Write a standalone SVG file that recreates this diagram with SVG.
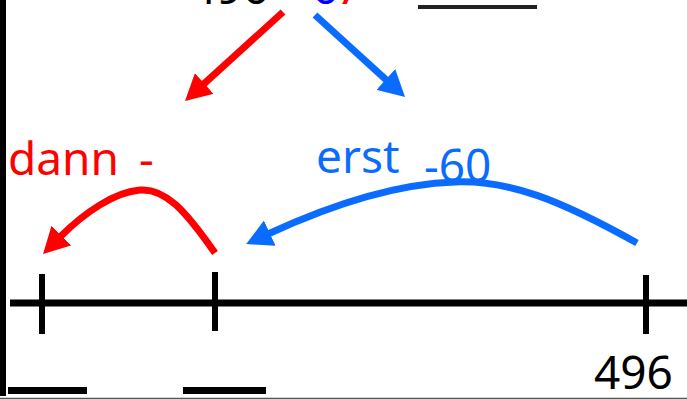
<svg xmlns="http://www.w3.org/2000/svg" width="687" height="400" viewBox="0 0 687 400">
<style>
text{font-family:"Noto Sans","DejaVu Sans",sans-serif;font-size:46px}
.blk{fill:#000}
.red{fill:#ff0000}
.blu{fill:#0a6cff}
.ax{stroke:#000;stroke-width:7;fill:none}
.tick{stroke:#000;stroke-width:6;fill:none}
.ra{stroke:#ff0000;stroke-width:7;fill:none}
.ba{stroke:#0a6cff;stroke-width:7;fill:none}
</style>
<defs>
<marker id="hr" viewBox="0 0 26 28" refX="2" refY="14" markerWidth="26" markerHeight="28" markerUnits="userSpaceOnUse" orient="auto"><path d="M0,0 L26,14 L0,28 z" fill="#ff0000"/></marker>
<marker id="hb" viewBox="0 0 26 28" refX="2" refY="14" markerWidth="26" markerHeight="28" markerUnits="userSpaceOnUse" orient="auto"><path d="M0,0 L26,14 L0,28 z" fill="#0a6cff"/></marker>
</defs>
<rect width="687" height="400" fill="#fff"/>
<g id="frame">
<line x1="3" y1="0" x2="3" y2="396" stroke="#000" stroke-width="6"/>
<line x1="0" y1="398.5" x2="687" y2="398.5" stroke="#555" stroke-width="1.5"/>
</g>
<g id="top-term">
<text x="190" y="4" class="blk">496 -</text>
<text x="312" y="4" fill="#0000ff">6</text>
<text x="336" y="4" class="red">7</text>
</g>
<g id="top-blank"><line x1="418" y1="7" x2="537" y2="7" stroke="#222" stroke-width="4"/></g>
<g id="label-dann"><text x="8" y="175" class="red">dann <tspan x="139">-</tspan></text></g>
<g id="label-erst"><text x="316" y="173" class="blu">erst</text><text x="424" y="182" class="blu">-60</text></g>
<g id="numberline">
<line x1="10" y1="303" x2="687" y2="303" class="ax"/>
<line x1="42" y1="274" x2="42" y2="334" class="tick"/>
<line x1="215" y1="272" x2="215" y2="331" class="tick"/>
<line x1="646" y1="275" x2="646" y2="334" class="tick"/>
</g>
<g id="label-496"><text x="594" y="389" class="blk">496</text></g>
<g id="blanks">
<rect x="8" y="387" width="79" height="7" fill="#000"/>
<rect x="183" y="387" width="83" height="7" fill="#000"/>
</g>
<g id="connectors">
<line x1="283" y1="12" x2="202.8" y2="84.9" class="ra" marker-end="url(#hr)"/>
<line x1="315" y1="15" x2="387.3" y2="80.8" class="ba" marker-end="url(#hb)"/>
<path d="M215,253 C185,210 165,188 140,190 C115,192 85,212 60,237" class="ra" marker-end="url(#hr)"/>
<path d="M637,243 C560,200 510,180 455,182 C390,184 320,210 268,234" class="ba" marker-end="url(#hb)"/>
</g>
</svg>
